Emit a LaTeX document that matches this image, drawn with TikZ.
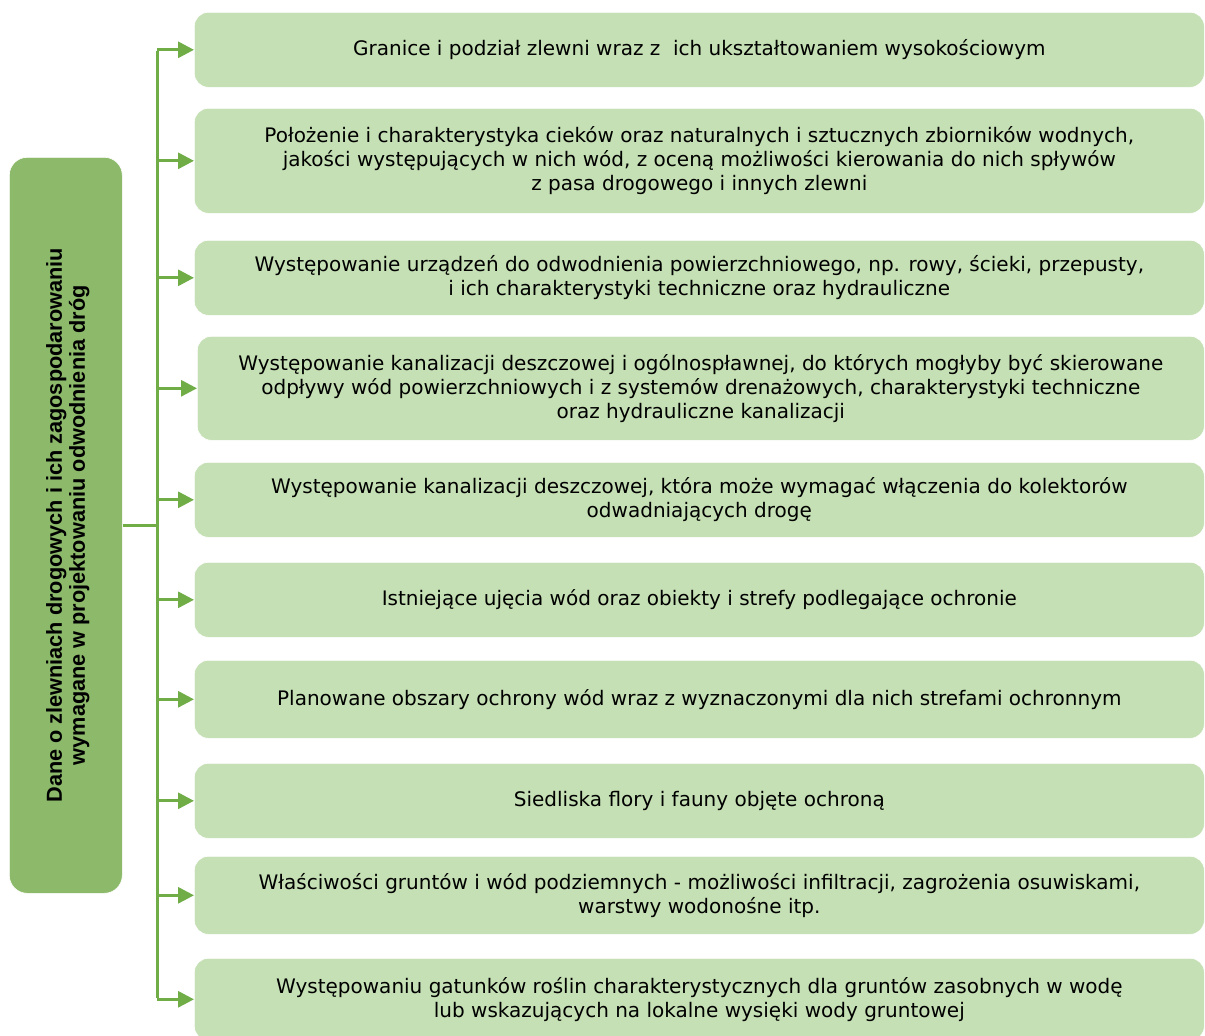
\documentclass[tikz,border=0pt]{standalone}
\usepackage{fontspec}
\setmainfont{DejaVu Sans}
\newfontfamily\leftfont{Liberation Sans}
\usetikzlibrary{arrows.meta}
\definecolor{darkgreen}{HTML}{8CBA6A}
\definecolor{lightgreen}{HTML}{C5E0B4}
\definecolor{linegreen}{HTML}{70AD47}
\tikzset{
  itembox/.style={draw=white, line width=0.6pt, fill=lightgreen, rounded corners=14pt, anchor=north west,
    align=center, inner sep=0pt, font=\fontsize{20}{24}\selectfont, text=black},
  mainbox/.style={draw=white, line width=0.6pt, fill=darkgreen, rounded corners=18pt, anchor=north west,
    inner sep=0pt, minimum width=113pt, minimum height=736pt},
  conn/.style={draw=linegreen, line width=3pt},
  arr/.style={conn, -{Triangle[length=16pt,width=16pt]}, shorten >=0pt}
}
\begin{document}
\begin{tikzpicture}[x=1pt,y=-1pt]
\clip (0,0) rectangle (1205,1036);
\useasboundingbox (0,0) rectangle (1205,1036);
\fill[white] (0,0) rectangle (1205,1036);

\node[mainbox] (L) at (9,157) {};
\node[rotate=90, align=center, font=\leftfont\bfseries\fontsize{21.7}{23}\selectfont] (Lt) at ([xshift=2pt]L.center)
  {Dane o zlewniach drogowych i ich zagospodarowaniu\\wymagane w projektowaniu odwodnienia dróg};

\node[itembox, minimum width=1010pt, minimum height=75pt] (b1) at (194,12)
  {Granice i podział zlewni wraz z\ \ ich ukształtowaniem wysokościowym};
\node[itembox, minimum width=1010pt, minimum height=105pt] (b2) at (194,108)
  {Położenie i charakterystyka cieków oraz naturalnych i sztucznych zbiorników wodnych,\\
   jakości występujących w nich wód, z oceną możliwości kierowania do nich spływów\\
   z pasa drogowego i innych zlewni};
\node[itembox, minimum width=1010pt, minimum height=75pt] (b3) at (194,240)
  {Występowanie urządzeń do odwodnienia powierzchniowego, np. rowy, ścieki, przepusty,\\
   i ich charakterystyki techniczne oraz hydrauliczne};
\node[itembox, minimum width=1007pt, minimum height=104pt] (b4) at (197,336)
  {Występowanie kanalizacji deszczowej i ogólnospławnej, do których mogłyby być skierowane\\
   odpływy wód powierzchniowych i z systemów drenażowych, charakterystyki techniczne\\
   oraz hydrauliczne kanalizacji};
\node[itembox, minimum width=1010pt, minimum height=75pt] (b5) at (194,462)
  {Występowanie kanalizacji deszczowej, która może wymagać włączenia do kolektorów\\
   odwadniających drogę};
\node[itembox, minimum width=1010pt, minimum height=75pt] (b6) at (194,562)
  {Istniejące ujęcia wód oraz obiekty i strefy podlegające ochronie};
\node[itembox, minimum width=1010pt, minimum height=78pt] (b7) at (194,660)
  {Planowane obszary ochrony wód wraz z wyznaczonymi dla nich strefami ochronnym};
\node[itembox, minimum width=1010pt, minimum height=75pt] (b8) at (194,763)
  {Siedliska flory i fauny objęte ochroną};
\node[itembox, minimum width=1010pt, minimum height=78pt] (b9) at (194,856)
  {Właściwości gruntów i wód podziemnych - możliwości infiltracji, zagrożenia osuwiskami,\\
   warstwy wodonośne itp.};
\node[itembox, minimum width=1010pt, minimum height=82pt] (b10) at (194,958)
  {Występowaniu gatunków roślin charakterystycznych dla gruntów zasobnych w wodę\\
   lub wskazujących na lokalne wysięki wody gruntowej};

\coordinate (spine) at (157,523);
\draw[conn] (L.east) -- (L.east -| spine);
\draw[conn] ([yshift=-1.5pt]b1.west -| spine) -- ([yshift=1.5pt]b10.west -| spine);
\foreach \i in {1,...,10}{
  \draw[arr] (b\i.west -| spine) -- (b\i.west);
}
\end{tikzpicture}
\end{document}
